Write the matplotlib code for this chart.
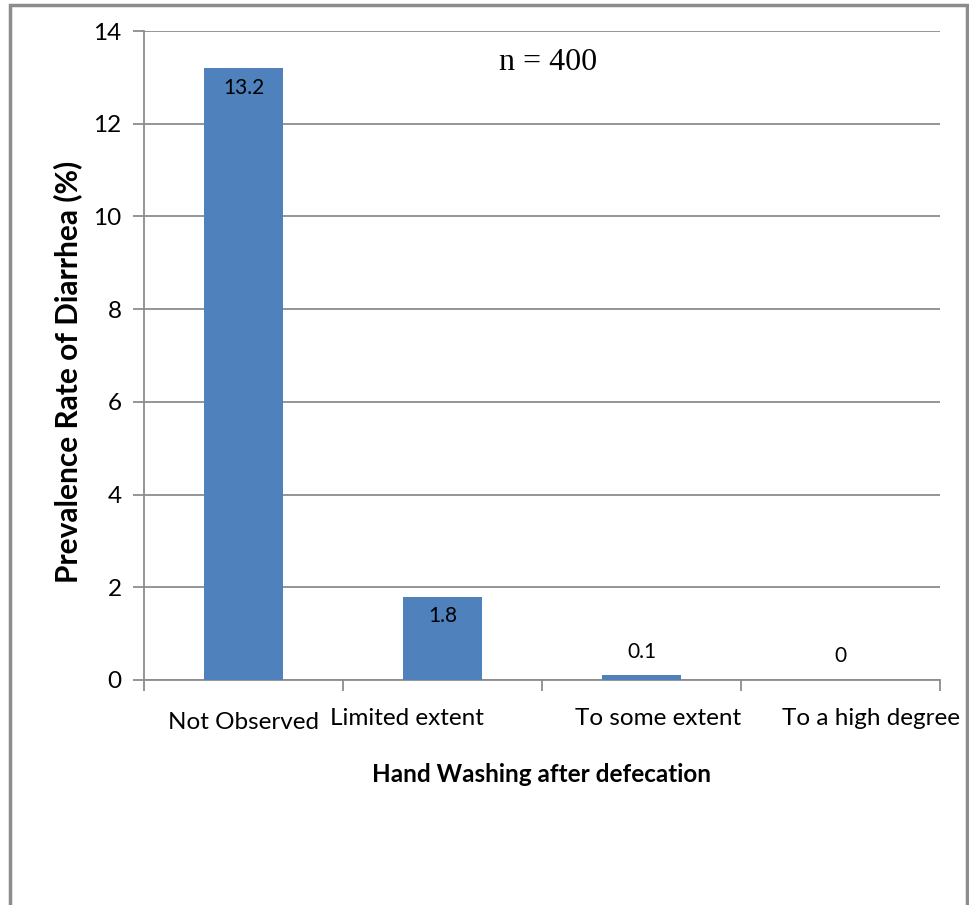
import matplotlib.pyplot as plt
import matplotlib.transforms as mtransforms
from matplotlib.patches import Rectangle

categories = ['Not Observed', 'Limited extent', 'To some extent', 'To a high degree']
prevalence = [13.2, 1.8, 0.1, 0]
y_ticks = [0, 2, 4, 6, 8, 10, 12, 14]

plt.rcParams['font.family'] = ['Lato', 'DejaVu Sans']

fig = plt.figure(figsize=(9.69, 9.05), dpi=100)
ax = fig.add_axes([144 / 969, 1 - 680 / 905, 796 / 969, 649 / 905])

# outer chart frame (bottom runs off the image)
fig.patches.append(Rectangle((10 / 969, -0.05), 957 / 969, 1.05 - 5 / 905,
                             transform=fig.transFigure, fill=False,
                             edgecolor='#8c8c8c', linewidth=2.5, zorder=0))

x = list(range(len(categories)))
bars = ax.bar(x, prevalence, width=0.4, color='#4f81bd', zorder=3)

for xi, v in zip(x, prevalence):
    off = -14 if v > 1 else 17
    ax.annotate(f'{v:g}', (xi, v), xytext=(0, off), textcoords='offset points',
                ha='center', va='center', fontsize=15, zorder=4)

ax.set_xlim(-0.5, 3.5)
ax.set_ylim(0, 14)
ax.set_yticks(y_ticks)
ax.yaxis.grid(True, color='#8c8c8c', linewidth=1.3, zorder=0)
ax.set_axisbelow(True)

ax.set_xticks([i + 0.5 for i in range(-1, len(categories))], minor=False)
ax.set_xticklabels([])
ax.set_xticks(x, minor=True)
ax.set_xticklabels(categories, minor=True, fontsize=17.5)
ax.tick_params(axis='x', which='minor', length=0, pad=20)
ax.tick_params(axis='x', which='major', length=8, color='#8c8c8c', width=1.3)
ax.tick_params(axis='y', length=8, color='#8c8c8c', width=1.3, labelsize=17.5, pad=8)

# nudge x labels like the original layout
shifts = [(0, -4), (-36, 0), (17, 0), (30, 0)]
for lab, (dx, dy) in zip(ax.xaxis.get_minorticklabels(), shifts):
    lab.set_transform(lab.get_transform() +
                      mtransforms.ScaledTranslation(dx / 100, dy / 100, fig.dpi_scale_trans))

for side in ['top', 'right']:
    ax.spines[side].set_visible(False)
for side in ['left', 'bottom']:
    ax.spines[side].set_color('#8c8c8c')
    ax.spines[side].set_linewidth(1.3)

ax.set_xlabel('Hand Washing after defecation', fontsize=17.5, fontweight='bold', labelpad=22)
ax.set_ylabel('Prevalence Rate of Diarrhea (%)', fontsize=21.5, fontweight='bold')
ax.yaxis.set_label_coords(-0.078, 0.4746)

ax.text(0.508, 0.9507, 'n = 400', transform=ax.transAxes, ha='center', va='center',
        fontsize=23, family='Liberation Serif')

fig.savefig('out.png', dpi=100)
